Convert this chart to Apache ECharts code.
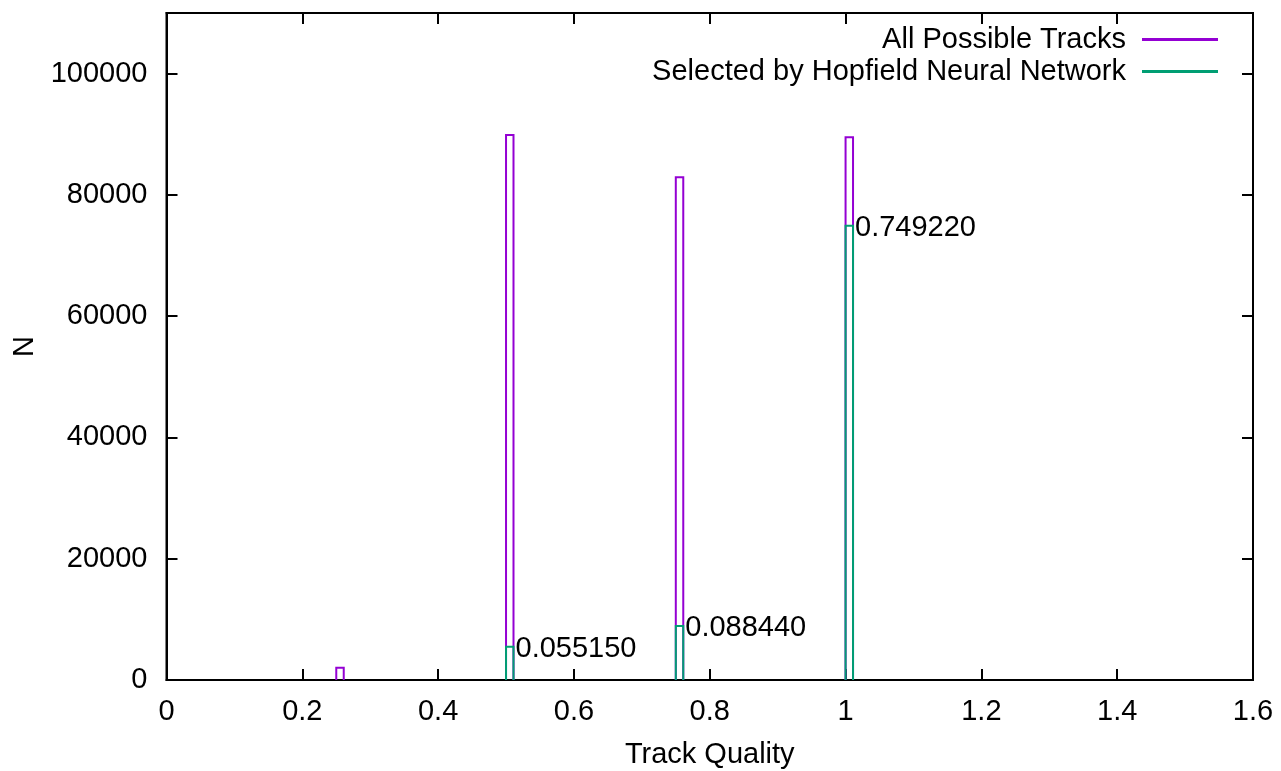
<!DOCTYPE html>
<html>
<head>
<meta charset="utf-8">
<script src="https://cdn.jsdelivr.net/npm/echarts@6/dist/echarts.min.js"></script>
<style>
html,body{margin:0;padding:0;background:#fff;}
#chart{width:1281px;height:771px;}
</style>
</head>
<body>
<div id="chart"></div>
<script>
// ---- data ----
const binWidth = 0.011;
const allBins = [0.25, 0.5, 0.75, 1.0];
const allCounts = [2000, 89900, 82900, 89500];
const selBins = [0.5, 0.75, 1.0];
const selCounts = [5500, 8900, 74900];
const selLabels = ['0.055150', '0.088440', '0.749220'];
const xTicks = { min: 0, max: 1.6, interval: 0.2 };
const yTicks = { min: 0, max: 110000, interval: 20000 };
const seriesNames = ['All Possible Tracks', 'Selected by Hopfield Neural Network'];

const FONT = '"Liberation Sans", Arial, Helvetica, sans-serif';
const FS = 29;
const PURPLE = '#9400d3';
const GREEN = '#009e73';

function histRender(color, labels) {
  return function (params, api) {
    const x = api.value(0), h = api.value(1);
    const p0 = api.coord([x, 0]);
    const p1 = api.coord([x, h]);
    const p2 = api.coord([x + binWidth, h]);
    const p3 = api.coord([x + binWidth, 0]);
    const children = [{
      type: 'polyline',
      shape: { points: [p0, p1, p2, p3] },
      style: { stroke: color, lineWidth: 2, fill: null }
    }];
    if (labels) {
      children.push({
        type: 'text',
        style: {
          text: labels[params.dataIndex],
          x: p2[0] + 2, y: p2[1] + 2,
          align: 'left', verticalAlign: 'middle',
          font: FS + 'px ' + FONT, fill: '#000'
        }
      });
    }
    return { type: 'group', children: children };
  };
}

const chart = echarts.init(document.getElementById('chart'), null, { renderer: 'canvas' });
function axisCommon() {
  return {
    axisLine: { show: true, onZero: false, lineStyle: { color: '#000', width: 2 } },
    axisTick: { show: true, inside: true, length: 11, lineStyle: { color: '#000', width: 2 } },
    splitLine: { show: false }
  };
}
function legendFor(name, top) {
  return {
    data: [{ name: name, icon: 'rect' }],
    right: 58, top: top, align: 'right', orient: 'vertical',
    itemWidth: 76, itemHeight: 3,
    textStyle: { fontSize: FS, color: '#000', fontFamily: FONT, padding: [0, 11, 0, 0] }
  };
}
chart.setOption({
  animation: false,
  backgroundColor: '#fff',
  textStyle: { fontFamily: FONT },
  grid: { left: 166.5, right: 28, top: 13, bottom: 91, show: true, borderColor: '#000', borderWidth: 2,
    backgroundColor: 'transparent', outerBoundsMode: 'none', containLabel: false },
  legend: [legendFor(seriesNames[0], 20), legendFor(seriesNames[1], 52)],
  xAxis: [
    Object.assign({
      type: 'value', min: xTicks.min, max: xTicks.max, interval: xTicks.interval,
      position: 'bottom',
      name: 'Track Quality', nameLocation: 'middle', nameGap: 60,
      nameTextStyle: { fontSize: FS, color: '#000', fontFamily: FONT },
      axisLabel: { fontSize: FS, color: '#000', margin: 17, fontFamily: FONT }
    }, axisCommon()),
    Object.assign({
      type: 'value', min: xTicks.min, max: xTicks.max, interval: xTicks.interval,
      position: 'top', axisLabel: { show: false }
    }, axisCommon())
  ],
  yAxis: [
    Object.assign({
      type: 'value', min: yTicks.min, max: yTicks.max, interval: yTicks.interval,
      position: 'left',
      name: 'N', nameLocation: 'middle', nameGap: 118,
      nameTextStyle: { fontSize: FS, color: '#000', fontFamily: FONT },
      axisLabel: { fontSize: FS, color: '#000', margin: 19, fontFamily: FONT, showMaxLabel: false,
        formatter: v => String(v) }
    }, axisCommon()),
    Object.assign({
      type: 'value', min: yTicks.min, max: yTicks.max, interval: yTicks.interval,
      position: 'right', axisLabel: { show: false }
    }, axisCommon())
  ],
  series: [
    {
      name: seriesNames[0], type: 'custom', xAxisIndex: 0, yAxisIndex: 0,
      itemStyle: { color: PURPLE },
      renderItem: histRender(PURPLE, null),
      data: allBins.map((b, i) => [b, allCounts[i]]),
      z: 2
    },
    {
      name: seriesNames[1], type: 'custom', xAxisIndex: 0, yAxisIndex: 0,
      itemStyle: { color: GREEN },
      renderItem: histRender(GREEN, selLabels),
      data: selBins.map((b, i) => [b, selCounts[i]]),
      z: 3
    }
  ]
});
</script>
</body>
</html>
